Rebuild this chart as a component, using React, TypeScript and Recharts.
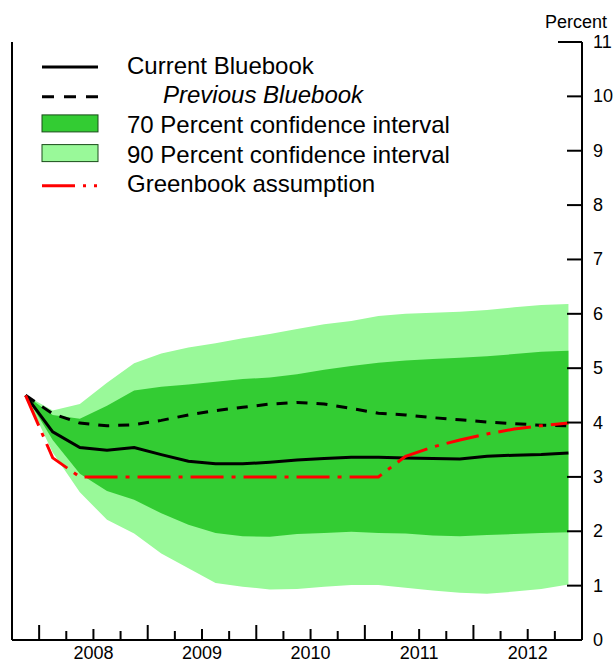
import React from 'react';
import { ComposedChart, Area, Line, XAxis, YAxis, Legend } from 'recharts';

const quarters = [
  '2007Q4', '2008Q1', '2008Q2', '2008Q3', '2008Q4', '2009Q1', '2009Q2', '2009Q3', '2009Q4',
  '2010Q1', '2010Q2', '2010Q3', '2010Q4', '2011Q1', '2011Q2', '2011Q3', '2011Q4',
  '2012Q1', '2012Q2', '2012Q3', '2012Q4',
];
const currentBluebook = [4.5, 3.83, 3.54, 3.49, 3.54, 3.41, 3.29, 3.24, 3.24, 3.27, 3.31, 3.34, 3.36, 3.36, 3.35, 3.34, 3.33, 3.38, 3.4, 3.41, 3.44];
const previousBluebook = [4.5, 4.16, 3.99, 3.94, 3.96, 4.04, 4.14, 4.22, 4.28, 4.34, 4.37, 4.34, 4.26, 4.17, 4.14, 4.09, 4.05, 4.01, 3.98, 3.95, 3.94];
const greenbook = [4.5, 3.35, 3.0, 3.0, 3.0, 3.0, 3.0, 3.0, 3.0, 3.0, 3.0, 3.0, 3.0, 3.0, 3.38, 3.55, 3.68, 3.79, 3.88, 3.94, 3.99];
const upper90 = [4.5, 4.22, 4.34, 4.73, 5.09, 5.27, 5.38, 5.46, 5.55, 5.63, 5.72, 5.81, 5.87, 5.96, 6.0, 6.02, 6.04, 6.07, 6.12, 6.16, 6.18];
const upper70 = [4.5, 4.14, 4.07, 4.31, 4.59, 4.66, 4.7, 4.75, 4.8, 4.83, 4.89, 4.97, 5.04, 5.1, 5.14, 5.17, 5.19, 5.22, 5.26, 5.3, 5.32];
const lower70 = [4.5, 3.68, 3.06, 2.74, 2.58, 2.33, 2.12, 1.97, 1.91, 1.9, 1.95, 1.97, 1.99, 1.97, 1.96, 1.92, 1.91, 1.93, 1.95, 1.97, 1.98];
const lower90 = [4.5, 3.45, 2.72, 2.21, 1.96, 1.59, 1.32, 1.05, 0.98, 0.93, 0.94, 0.98, 1.01, 1.01, 0.96, 0.91, 0.87, 0.85, 0.89, 0.94, 1.02];

const quarterTicks = [
  2007.75, 2008, 2008.25, 2008.5, 2008.75, 2009, 2009.25, 2009.5, 2009.75, 2010, 2010.25,
  2010.5, 2010.75, 2011, 2011.25, 2011.5, 2011.75, 2012, 2012.25, 2012.5, 2012.75, 2013,
];
const yearLabels = ['2008', '2009', '2010', '2011', '2012'];
const percentTicks = [0, 1, 2, 3, 4, 5, 6, 7, 8, 9, 10, 11];

const DARK_GREEN = '#33CC33';
const LIGHT_GREEN = '#99F999';
const RED = '#FF0000';
const FONT = '"Liberation Sans", Arial, sans-serif';

// quarter label -> mid-quarter position on a decimal-year axis
const data = quarters.map((q, i) => ({
  t: Number(q.slice(0, 4)) + (Number(q.slice(5)) - 1) * 0.25 + 0.125,
  current: currentBluebook[i],
  previous: previousBluebook[i],
  greenbook: greenbook[i],
  band90: [lower90[i], upper90[i]],
  band70: [lower70[i], upper70[i]],
}));

const XTick = (props: any) => {
  const { x, y, payload } = props;
  const v = payload.value;
  const frac = Math.round((v % 1) * 100) / 100;
  const len = frac === 0 ? 15 : frac === 0.5 ? 11 : 9;
  const label = yearLabels.find((yr) => Number(yr) + 0.5 === v);
  return (
    <g>
      <line x1={x} x2={x} y1={y} y2={y - len} stroke="#000" strokeWidth={2} />
      {label && (
        <text x={x} y={y + 19} textAnchor="middle" fontSize={18} fontFamily={FONT} fill="#000">
          {label}
        </text>
      )}
    </g>
  );
};

const LeftTick = (props: any) => {
  const { x, y, payload } = props;
  const len = payload.value === 11 ? 24 : 15;
  return <line x1={x} x2={x + len} y1={y} y2={y} stroke="#000" strokeWidth={2} />;
};

const RightTick = (props: any) => {
  const { x, y, payload } = props;
  const len = payload.value === 11 ? 24 : 15;
  return (
    <g>
      <line x1={x - len} x2={x} y1={y} y2={y} stroke="#000" strokeWidth={2} />
      <text x={x + 11} y={y + 6} textAnchor="start" fontSize={18} fontFamily={FONT} fill="#000">
        {payload.value}
      </text>
    </g>
  );
};

const legendItems = [
  { name: 'Current Bluebook', kind: 'solid' },
  { name: 'Previous Bluebook', kind: 'dashed' },
  { name: '70 Percent confidence interval', kind: 'band70' },
  { name: '90 Percent confidence interval', kind: 'band90' },
  { name: 'Greenbook assumption', kind: 'dashdot' },
];

const LegendContent = () => (
  <svg width={470} height={200} style={{ display: 'block' }}>
    {legendItems.map((item, i) => {
      const base = 73.5 + i * 29.7;
      let sym: React.ReactNode = null;
      if (item.kind === 'solid') sym = <line x1={42} x2={98} y1={base - 6.5} y2={base - 6.5} stroke="#000" strokeWidth={3} />;
      if (item.kind === 'dashed') sym = <line x1={42} x2={98} y1={base - 6.5} y2={base - 6.5} stroke="#000" strokeWidth={3} strokeDasharray="12 10" />;
      if (item.kind === 'dashdot') sym = <line x1={42} x2={98} y1={base - 6.5} y2={base - 6.5} stroke={RED} strokeWidth={3} strokeDasharray="33 8 3 8 3 8" />;
      if (item.kind === 'band70') sym = <rect x={42} y={base - 18} width={56} height={17} fill={DARK_GREEN} stroke="#1a4d1a" strokeWidth={1} />;
      if (item.kind === 'band90') sym = <rect x={42} y={base - 18} width={56} height={17} fill={LIGHT_GREEN} stroke="#1a4d1a" strokeWidth={1} />;
      return (
        <g key={item.name}>
          {sym}
          <text
            x={item.kind === 'dashed' ? 163 : 127}
            y={base}
            fontSize={24}
            fontFamily={FONT}
            fontStyle={item.kind === 'dashed' ? 'italic' : 'normal'}
            fill="#000"
          >
            {item.name}
          </text>
        </g>
      );
    })}
  </svg>
);

export default function App() {
  return (
    <div style={{ position: 'absolute', left: 0, top: 0, width: 615, height: 663, background: '#fff' }}>
      <div
        style={{
          position: 'absolute', left: 500, top: 13, width: 107, textAlign: 'right',
          fontFamily: FONT, fontSize: 18, lineHeight: '18px', color: '#000',
        }}
      >
        Percent
      </div>
      <ComposedChart width={615} height={663} data={data} margin={{ top: 42, right: 0, bottom: 0, left: 0 }}>
        <XAxis
          dataKey="t"
          type="number"
          domain={[2007.75, 2013]}
          ticks={quarterTicks}
          interval={0}
          height={23}
          tickSize={0}
          tickMargin={0}
          tickLine={false}
          tick={XTick}
          axisLine={{ stroke: '#000', strokeWidth: 2 }}
          allowDataOverflow
        />
        <YAxis
          yAxisId="left"
          orientation="left"
          domain={[0, 11]}
          ticks={percentTicks}
          interval={0}
          width={12}
          tickSize={0}
          tickMargin={0}
          tickLine={false}
          tick={LeftTick}
          axisLine={{ stroke: '#000', strokeWidth: 2 }}
        />
        <YAxis
          yAxisId="right"
          orientation="right"
          domain={[0, 11]}
          ticks={percentTicks}
          interval={0}
          width={33}
          tickSize={0}
          tickMargin={0}
          tickLine={false}
          tick={RightTick}
          axisLine={{ stroke: '#000', strokeWidth: 2 }}
        />
        <Legend
          layout="vertical"
          align="center"
          verticalAlign="middle"
          content={LegendContent}
          wrapperStyle={{ left: 0, top: 0, width: 470, height: 200 }}
        />
        <Area yAxisId="right" type="linear" dataKey="band90" fill={LIGHT_GREEN} fillOpacity={1} stroke="none" dot={false} activeDot={false} isAnimationActive={false} />
        <Area yAxisId="right" type="linear" dataKey="band70" fill={DARK_GREEN} fillOpacity={1} stroke="none" dot={false} activeDot={false} isAnimationActive={false} />
        <Line yAxisId="right" type="linear" dataKey="previous" stroke="#000" strokeWidth={3} strokeDasharray="11 9" dot={false} activeDot={false} isAnimationActive={false} />
        <Line yAxisId="right" type="linear" dataKey="current" stroke="#000" strokeWidth={3} dot={false} activeDot={false} isAnimationActive={false} />
        <Line yAxisId="right" type="linear" dataKey="greenbook" stroke={RED} strokeWidth={3} strokeDasharray="33 8 4 8" dot={false} activeDot={false} isAnimationActive={false} />
      </ComposedChart>
    </div>
  );
}
